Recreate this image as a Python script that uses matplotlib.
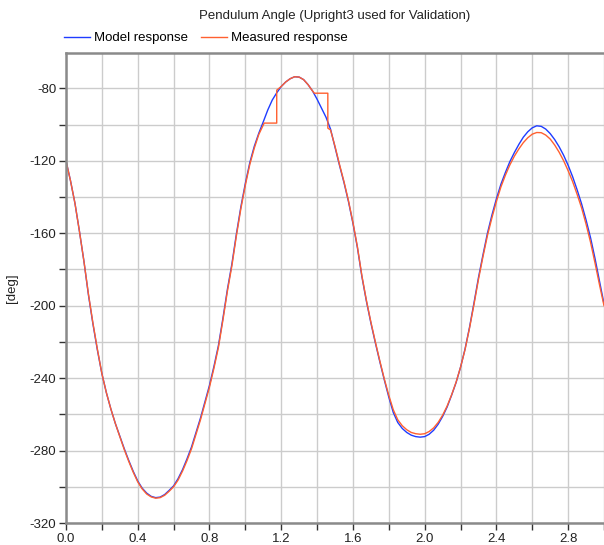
import matplotlib
matplotlib.use("Agg")
import matplotlib.pyplot as plt
from matplotlib.ticker import MultipleLocator

plt.rcParams['font.family'] = ['Liberation Sans', 'DejaVu Sans']
plt.rcParams['axes.unicode_minus'] = False

# model response, every 0.025 s
model_t = [0.000, 0.025, 0.050, 0.075, 0.100, 0.125, 0.150, 0.175, 0.200, 0.225,
           0.250, 0.275, 0.300, 0.325, 0.350, 0.375, 0.400, 0.425, 0.450, 0.475,
           0.500, 0.525, 0.550, 0.575, 0.600, 0.625, 0.650, 0.675, 0.700, 0.725,
           0.750, 0.775, 0.800, 0.825, 0.850, 0.875, 0.900, 0.925, 0.950, 0.975,
           1.000, 1.025, 1.050, 1.075, 1.100, 1.125, 1.150, 1.175, 1.200, 1.225,
           1.250, 1.275, 1.300, 1.325, 1.350, 1.375, 1.400, 1.425, 1.450, 1.475,
           1.500, 1.525, 1.550, 1.575, 1.600, 1.625, 1.650, 1.675, 1.700, 1.725,
           1.750, 1.775, 1.800, 1.825, 1.850, 1.875, 1.900, 1.925, 1.950, 1.975,
           2.000, 2.025, 2.050, 2.075, 2.100, 2.125, 2.150, 2.175, 2.200, 2.225,
           2.250, 2.275, 2.300, 2.325, 2.350, 2.375, 2.400, 2.425, 2.450, 2.475,
           2.500, 2.525, 2.550, 2.575, 2.600, 2.625, 2.650, 2.675, 2.700, 2.725,
           2.750, 2.775, 2.800, 2.825, 2.850, 2.875, 2.900, 2.925, 2.950, 2.975, 3.000]
model_deg = [-120, -131, -143.5, -159, -175.5, -194, -210, -224.5, -237.5, -248,
             -257, -265, -272, -279, -285.5, -291.5, -296.8, -300.8, -303.5, -305.3,
             -306, -305.7, -304.3, -302, -299.5, -295.5, -290.5, -284.5, -278, -270,
             -262, -253, -244, -233.5, -222, -207, -191, -177, -160.5, -145.5,
             -132.5, -121, -112, -104.8, -98.5, -92, -86.5, -82.5, -79, -76.5,
             -74.7, -73.6, -73.8, -75.2, -78, -81.5, -86, -91, -96, -102.5,
             -112.5, -122.5, -132, -142.5, -154.5, -168, -184, -197.5, -209.5, -220.5,
             -231, -241, -250.5, -259, -264.5, -267.8, -270, -271.5, -272.3, -272.6,
             -272.3, -271, -268.8, -265.5, -261.2, -256, -249.5, -242.5, -234, -224,
             -212, -198.5, -184.5, -172, -160, -150, -141, -133, -126.5, -120.5,
             -115.5, -111, -107, -104, -101.8, -100.7, -101, -102.5, -105, -108.3,
             -112.3, -117, -122.5, -128.8, -136, -143.8, -152.7, -162.5, -174, -186.5, -199]

# measured response (sample-and-hold steps around the first peak)
meas_t = [0.000, 0.025, 0.050, 0.075, 0.100, 0.125, 0.150, 0.175, 0.200, 0.225,
          0.250, 0.275, 0.300, 0.325, 0.350, 0.375, 0.400, 0.425, 0.450, 0.475,
          0.500, 0.525, 0.550, 0.575, 0.600, 0.625, 0.650, 0.675, 0.700, 0.725,
          0.750, 0.775, 0.800, 0.825, 0.850, 0.875, 0.900, 0.925, 0.950, 0.975,
          1.000, 1.025, 1.050, 1.075, 1.105, 1.175, 1.175, 1.200, 1.225,
          1.250, 1.275, 1.300, 1.325, 1.350, 1.375, 1.385, 1.460, 1.460, 1.475,
          1.500, 1.525, 1.550, 1.575, 1.600, 1.625, 1.650, 1.675, 1.700, 1.725,
          1.750, 1.775, 1.800, 1.825, 1.850, 1.875, 1.900, 1.925, 1.950, 1.975,
          2.000, 2.025, 2.050, 2.075, 2.100, 2.125, 2.150, 2.175, 2.200, 2.225,
          2.250, 2.275, 2.300, 2.325, 2.350, 2.375, 2.400, 2.425, 2.450, 2.475,
          2.500, 2.525, 2.550, 2.575, 2.600, 2.625, 2.650, 2.675, 2.700, 2.725,
          2.750, 2.775, 2.800, 2.825, 2.850, 2.875, 2.900, 2.925, 2.950, 2.975, 3.000]
meas_deg = [-120, -131, -143.5, -159, -175.5, -193.5, -209.5, -224, -237.5, -248,
            -257, -265, -272.3, -279.5, -286, -292, -297.3, -301.2, -304, -305.6,
            -306.3, -306, -304.7, -302.5, -300, -296.3, -291.3, -285.5, -279, -271,
            -263, -254, -245, -234.5, -223, -208, -192, -178, -161.5, -146.5,
            -133.5, -122, -113, -105.5, -99.2, -99.2, -81, -79, -76.5,
            -74.7, -73.6, -73.8, -75.2, -78, -81.5, -82.7, -82.7, -102, -103,
            -112, -122, -131.5, -142, -154, -167.5, -183.5, -197, -209, -220,
            -230.5, -240.5, -249.5, -257.5, -263, -266.3, -268.5, -270, -270.7, -271,
            -270.7, -269.5, -267.5, -264.5, -260.5, -255.5, -249.3, -242.3, -234, -224.3,
            -212.5, -199.3, -185.5, -173, -161.3, -151.5, -142.5, -134.5, -128, -122.3,
            -117.5, -113.5, -110, -107.3, -105.3, -104.4, -104.5, -105.8, -108, -111.3,
            -115.3, -120, -125.5, -131.5, -138.5, -146, -155, -165, -176.5, -188.5, -200]

fig = plt.figure(figsize=(6.04, 5.45), dpi=100)
ax = fig.add_axes([66 / 604, 1 - 523 / 545, 1 - 66 / 604, (523 - 53) / 545])

ax.plot(model_t, model_deg, color='#1f3cff', lw=1.0, label='Model response')
ax.plot(meas_t, meas_deg, color='#ff6030', lw=1.0, label='Measured response')

ax.set_xlim(0, 3.0)
ax.set_ylim(-320, -60.5)
ax.xaxis.set_major_locator(MultipleLocator(0.4))
ax.xaxis.set_minor_locator(MultipleLocator(0.2))
ax.yaxis.set_major_locator(MultipleLocator(40))
ax.yaxis.set_minor_locator(MultipleLocator(20))
ax.xaxis.set_major_formatter(plt.FuncFormatter(lambda v, p: f"{v:.1f}"))
ax.yaxis.set_major_formatter(plt.FuncFormatter(lambda v, p: f"{v:.0f}"))

ax.grid(True, which='both', color='#cccccc', lw=1.0)
ax.set_axisbelow(True)
ax.tick_params(which='both', direction='out', length=5, width=1, color='#333333',
               labelsize=9.5, labelcolor='#222222', pad=2)

for s in ['left', 'bottom', 'top']:
    ax.spines[s].set_color('#8a8a8a')
    ax.spines[s].set_linewidth(1.8)
ax.spines['right'].set_visible(False)

ax.set_ylabel('[deg]', fontsize=9.5, color='#222222', labelpad=8)

fig.text((66 + 604) / 2 / 604, 1 - 16 / 545, 'Pendulum Angle (Upright3 used for Validation)',
         ha='center', va='center', fontsize=9.5, color='#222222')
ax.legend(loc='lower left', bbox_to_anchor=(-0.012, 1.01), ncol=2, frameon=False,
          fontsize=9.5, handlelength=2.0, handletextpad=0.3, columnspacing=1.0,
          borderaxespad=0.2, borderpad=0.1)

fig.savefig('out.png', dpi=100)
